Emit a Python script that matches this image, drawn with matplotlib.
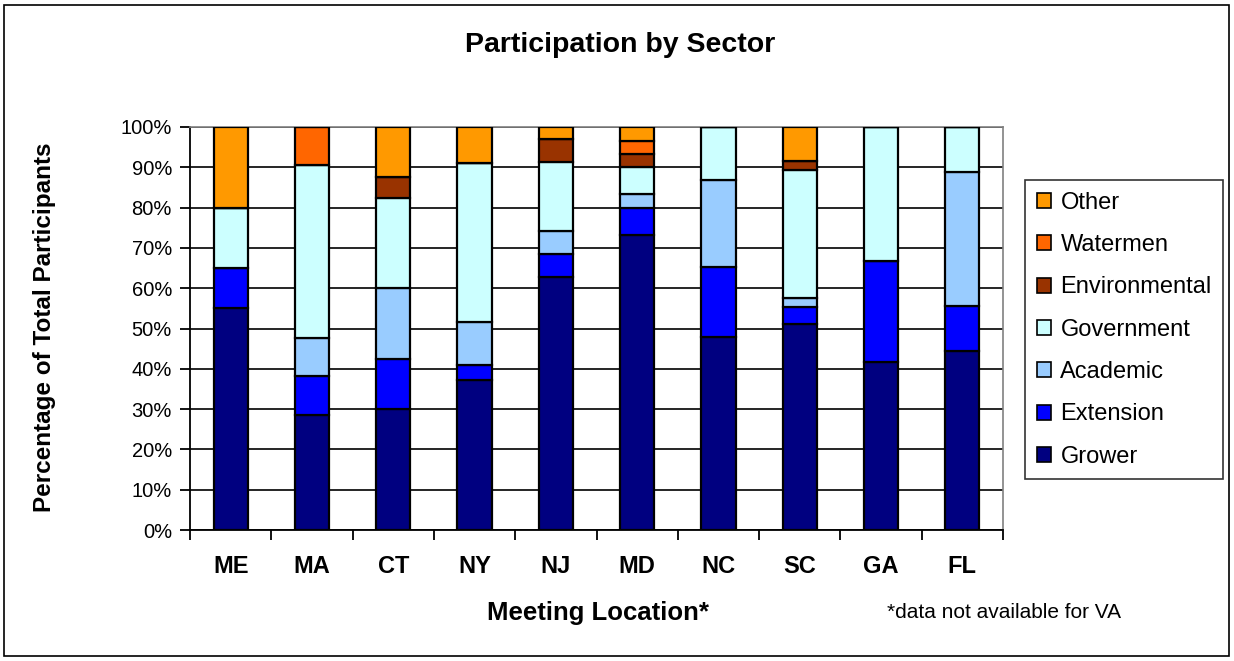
import matplotlib
matplotlib.use("Agg")
import matplotlib.pyplot as plt
import numpy as np
from matplotlib.patches import Rectangle, Patch
from matplotlib.ticker import FixedLocator, PercentFormatter

locations = ["ME", "MA", "CT", "NY", "NJ", "MD", "NC", "SC", "GA", "FL"]
sectors = ["Grower", "Extension", "Academic", "Government", "Environmental", "Watermen", "Other"]
colors = ["#000080", "#0000FF", "#99CCFF", "#CCFFFF", "#993300", "#FF6600", "#FF9900"]

grower        = [55.0, 28.6, 30.0, 37.2, 62.9, 73.3, 47.8, 51.1, 41.7, 44.4]
extension     = [10.0,  9.5, 12.5,  3.7,  5.7,  6.7, 17.4,  4.3, 25.0, 11.1]
academic      = [ 0.0,  9.5, 17.5, 10.8,  5.7,  3.3, 21.7,  2.1,  0.0, 33.3]
government    = [15.0, 42.9, 22.5, 39.3, 17.1,  6.7, 13.1, 31.9, 33.3, 11.2]
environmental = [ 0.0,  0.0,  5.0,  0.0,  5.7,  3.3,  0.0,  2.1,  0.0,  0.0]
watermen      = [ 0.0,  9.5,  0.0,  0.0,  0.0,  3.3,  0.0,  0.0,  0.0,  0.0]
other         = [20.0,  0.0, 12.5,  9.0,  2.9,  3.4,  0.0,  8.5,  0.0,  0.0]

series = [grower, extension, academic, government, environmental, watermen, other]

W, H = 1234, 661
fig = plt.figure(figsize=(W / 100, H / 100), dpi=100)
fig.patch.set_facecolor("white")

# outer chart border
fig.add_artist(Rectangle((4 / W, 5 / H), (W - 9) / W, (H - 10) / H,
                         transform=fig.transFigure, fill=False,
                         edgecolor="black", linewidth=1.2))

ax = fig.add_axes([190 / W, (H - 530) / H, 813 / W, 403 / H])
x = np.arange(len(locations))
bottom = np.zeros(len(locations))
for vals, col in zip(series, colors):
    v = np.array(vals)
    ax.bar(x, v, bottom=bottom, width=0.42, color=col, edgecolor="black",
           linewidth=1.6, zorder=3)
    bottom += v

ax.set_xlim(-0.5, len(locations) - 0.5)
ax.set_ylim(0, 100)
ax.yaxis.set_major_locator(FixedLocator(np.arange(0, 101, 10)))
ax.yaxis.set_major_formatter(PercentFormatter(decimals=0))
ax.grid(axis="y", color="black", linewidth=1.2, zorder=0)
ax.set_axisbelow(True)

for s in ["top", "right"]:
    ax.spines[s].set_color("#808080")
    ax.spines[s].set_linewidth(1.2)
for s in ["left", "bottom"]:
    ax.spines[s].set_color("black")
    ax.spines[s].set_linewidth(1.3)

ax.set_xticks(x)
ax.set_xticklabels(locations, fontsize=17, fontweight="bold", family="Liberation Sans")
ax.set_xticks(np.arange(-0.5, len(locations), 1.0), minor=True)
ax.tick_params(axis="x", which="major", length=0, pad=18)
ax.tick_params(axis="x", which="minor", length=7, width=1.3, direction="out")
ax.tick_params(axis="y", length=7, width=1.3, direction="out", pad=6)
for lab in ax.get_yticklabels():
    lab.set_fontsize(14.5)
    lab.set_family("Liberation Sans")

fig.text(620 / W, 1 - 45 / H, "Participation by Sector", ha="center", va="center",
         fontsize=20.5, fontweight="bold", family="Liberation Sans")
fig.text(45 / W, 1 - 327 / H, "Percentage of Total Participants", ha="center",
         va="center", rotation=90, fontsize=17.5, fontweight="bold",
         family="Liberation Sans")
fig.text(598 / W, 1 - 613 / H, "Meeting Location*", ha="center", va="center",
         fontsize=18.5, fontweight="bold", family="Liberation Sans")
fig.text(1004 / W, 1 - 612 / H, "*data not available for VA", ha="center",
         va="center", fontsize=15, family="Liberation Sans")

handles = [Patch(facecolor=c, edgecolor="black", linewidth=1.2, label=s)
           for s, c in zip(sectors, colors)]
leg = fig.legend(handles=handles[::-1], loc="upper left",
                 bbox_to_anchor=(1025 / W, 1 - 180 / H),
                 frameon=True, fancybox=False, edgecolor="black",
                 prop={"family": "Liberation Sans", "size": 17},
                 handlelength=0.6, handleheight=0.6, handletextpad=0.4,
                 labelspacing=0.86, borderpad=0.5, borderaxespad=0)
leg.get_frame().set_linewidth(1.2)

fig.savefig("out.png", dpi=100)
